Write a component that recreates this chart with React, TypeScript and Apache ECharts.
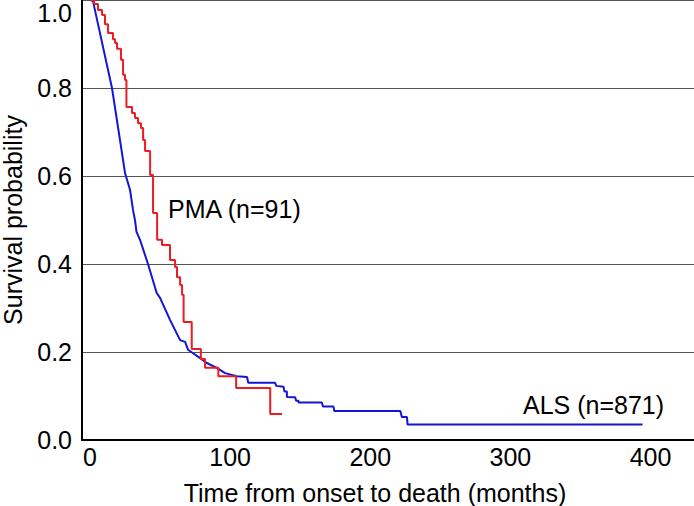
import React, { useEffect, useRef } from "react";
import * as echarts from "echarts";

// PMA (red) Kaplan-Meier steps: time (months) and survival from that time on
const pmaTime = [0, 2.9, 5.7, 8.6, 10.7, 12.9, 16.4, 17.9, 19.3, 22.1, 23.6, 25, 26, 30, 32.1, 34.3, 36.4, 37.9, 39.3, 42.9, 45, 47.9, 51.4, 57.1, 60.7, 62.1, 64.3, 65.7, 66.8, 72.6, 79.1, 82.1, 91.6, 104.3, 128.6, 137];
const pmaSurv = [1.0, 0.991, 0.977, 0.966, 0.945, 0.925, 0.911, 0.902, 0.889, 0.864, 0.83, 0.818, 0.757, 0.743, 0.732, 0.72, 0.709, 0.682, 0.657, 0.602, 0.516, 0.455, 0.443, 0.409, 0.393, 0.37, 0.352, 0.33, 0.268, 0.207, 0.184, 0.164, 0.145, 0.118, 0.059, 0.059];

// ALS (blue) curve points (dense near start, explicit corners later)
const alsTime = [0, 2.1, 15.7, 25, 28.6, 30.7, 32.1, 33.2, 35.7, 41.4, 47.6, 50, 57.1, 64.3, 67.9, 70, 78.6, 83.4, 90.5, 96.4, 104.8, 112.1, 112.9, 132.1, 132.9, 138.1, 138.8, 140.5, 140.5, 146.4, 147.1, 148.8, 148.8, 165.5, 166.2, 173.8, 174.3, 221.4, 222.6, 226.2, 226.6, 394.3];
const alsSurv = [1.0, 0.998, 0.8, 0.607, 0.568, 0.523, 0.5, 0.473, 0.455, 0.4, 0.334, 0.323, 0.273, 0.227, 0.223, 0.205, 0.186, 0.175, 0.164, 0.152, 0.145, 0.143, 0.13, 0.13, 0.123, 0.121, 0.11, 0.11, 0.098, 0.097, 0.089, 0.089, 0.085, 0.085, 0.076, 0.076, 0.066, 0.066, 0.052, 0.052, 0.035, 0.035];

const yTicks = [0, 0.2, 0.4, 0.6, 0.8, 1.0];
const xLabels = [0, 100, 200, 300, 400];

const pmaLabel = { text: "PMA (n=91)", t: 55.7, s: 0.526 };
const alsLabel = { text: "ALS (n=871)", t: 309, s: 0.08 };

const FONT = "Arial, 'Liberation Sans', Helvetica, sans-serif";
const FS = 25;

export default function App() {
  const ref = useRef<HTMLDivElement>(null);
  useEffect(() => {
    document.body.style.margin = "0";
    if (!ref.current) return;
    const chart = echarts.init(ref.current, undefined, { renderer: "svg" });
    const pmaData = pmaTime.map((t, i) => [t, pmaSurv[i]]);
    const alsData = alsTime.map((t, i) => [t, alsSurv[i]]);
    const labelStyle = { show: true, position: "right", distance: 0, fontSize: FS, color: "#000", fontFamily: FONT };
    chart.setOption({
      animation: false,
      backgroundColor: "#ffffff",
      textStyle: { fontFamily: FONT },
      grid: { left: 82, right: 0, top: 0, bottom: 66, containLabel: false, outerBoundsMode: "none" },
      xAxis: {
        type: "value",
        min: -5.7,
        max: 431,
        splitNumber: 4,
        name: "Time from onset to death (months)",
        nameLocation: "middle",
        nameGap: 40,
        nameTextStyle: { fontSize: FS, color: "#000", fontFamily: FONT, padding: [0, 26, 0, 0] },
        axisLine: { show: true, onZero: false, lineStyle: { color: "#000", width: 2 } },
        axisTick: { show: false },
        splitLine: { show: false },
        axisLabel: {
          fontSize: FS,
          color: "#000",
          margin: 4,
          fontFamily: FONT,
          showMinLabel: false,
          showMaxLabel: false,
          formatter: (v: number) => (xLabels.indexOf(v) >= 0 ? String(v) : ""),
        },
      },
      yAxis: {
        type: "value",
        min: yTicks[0],
        max: yTicks[yTicks.length - 1],
        interval: 0.2,
        name: "Survival probability",
        nameLocation: "middle",
        nameGap: 57,
        nameTextStyle: { fontSize: FS, color: "#000", fontFamily: FONT },
        axisLine: { show: true, onZero: false, lineStyle: { color: "#000", width: 2 } },
        axisTick: { show: false },
        splitLine: { show: true, lineStyle: { color: "#555", width: 1 } },
        axisLabel: {
          fontSize: FS,
          color: "#000",
          margin: 10,
          fontFamily: FONT,
          verticalAlignMaxLabel: "top",
          formatter: (v: number) => v.toFixed(1),
        },
      },
      series: [
        {
          name: "ALS",
          type: "line",
          data: alsData,
          showSymbol: false,
          symbol: "none",
          lineStyle: { color: "#1515d6", width: 2 },
          z: 2,
          markPoint: {
            symbol: "circle",
            symbolSize: 0,
            silent: true,
            data: [{ coord: [alsLabel.t, alsLabel.s], value: alsLabel.text }],
            label: { ...labelStyle, formatter: alsLabel.text },
          },
        },
        {
          name: "PMA",
          type: "line",
          step: "end",
          data: pmaData,
          showSymbol: false,
          symbol: "none",
          lineStyle: { color: "#ec1c24", width: 2 },
          z: 3,
          markPoint: {
            symbol: "circle",
            symbolSize: 0,
            silent: true,
            data: [{ coord: [pmaLabel.t, pmaLabel.s], value: pmaLabel.text }],
            label: { ...labelStyle, formatter: pmaLabel.text },
          },
        },
      ],
    });
    return () => chart.dispose();
  }, []);
  return <div ref={ref} style={{ width: 694, height: 506 }} />;
}
